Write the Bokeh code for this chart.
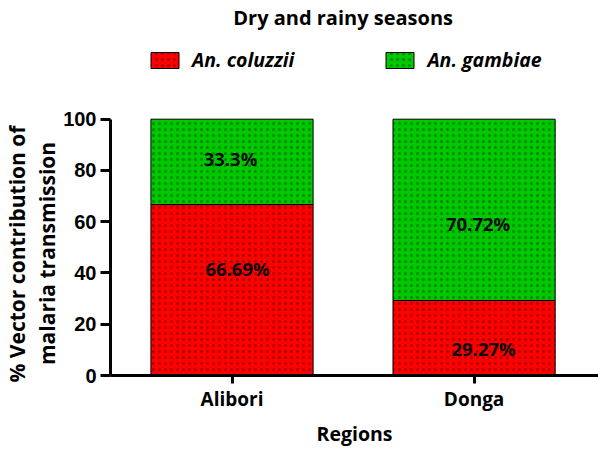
from bokeh.plotting import figure
from bokeh.models import Range1d, FixedTicker, Legend, LegendItem, ColumnDataSource, Label, Title
from bokeh.core.properties import value
from bokeh.embed import file_html
from bokeh.resources import INLINE

# ---- data ----
regions = ["Alibori", "Donga"]
species = ["An. coluzzii", "An. gambiae"]
coluzzii = [66.69, 29.27]
gambiae = [33.3, 70.72]
coluzzii_labels = ["66.69%", "29.27%"]
gambiae_labels = ["33.3%", "70.72%"]
y_ticks = [0, 20, 40, 60, 80, 100]
title_text = "Dry and rainy seasons"
y_label_lines = ["% Vector contribution of", "malaria transmission"]
x_label = "Regions"

# ---- styles / label nudges ----
FONT = "Open Sans"
colors = ["#FF0000", "#00C800"]
coluzzii_label_dy = [8.4, -4.1]
gambiae_label_dy = [1.3, -5.2]
coluzzii_label_dx = [5.5, 9.5]
gambiae_label_dx = [-1.5, 4]

xs = [i + 0.5 for i in range(len(regions))]
tops = [c + g for c, g in zip(coluzzii, gambiae)]

src = ColumnDataSource(dict(x=xs, c=coluzzii, g=gambiae, top=tops))

p = figure(width=598, height=449, x_range=Range1d(-0.002, 2.014), y_range=Range1d(0, 146.3),
           output_backend="svg", toolbar_location=None,
           min_border_left=108, min_border_right=0, min_border_top=0, min_border_bottom=71)

common = dict(width=0.67, line_color="black", line_width=1,
              hatch_pattern="dot", hatch_color="black", hatch_alpha=0.32,
              hatch_scale=6, hatch_weight=0.6)
r1 = p.vbar(x="x", bottom=0, top="c", source=src, fill_color=colors[0], **common)
r2 = p.vbar(x="x", bottom="c", top="top", source=src, fill_color=colors[1], **common)

# percentage labels
lab_x = xs + xs
lab_y = [c / 2 + d for c, d in zip(coluzzii, coluzzii_label_dy)] + \
        [c + g / 2 + d for c, g, d in zip(coluzzii, gambiae, gambiae_label_dy)]
lab_t = coluzzii_labels + gambiae_labels
lab_dx = coluzzii_label_dx + gambiae_label_dx
lsrc = ColumnDataSource(dict(x=lab_x, y=lab_y, t=lab_t, dx=lab_dx))
p.text(x="x", y="y", text="t", x_offset="dx", source=lsrc, text_font=value(FONT),
       text_font_style="bold", text_font_size="18.5px", text_align="center",
       text_baseline="middle", text_color="#0a0a0a")

# chart title inside the extended frame
p.add_layout(Label(x=0.959, y=139.7, text=title_text, text_align="center",
                   text_baseline="alphabetic", text_font=FONT, text_font_style="bold",
                   text_font_size="20px", text_color="black"))

legend = Legend(items=[LegendItem(label=species[0], renderers=[r1]),
                       LegendItem(label=species[1], renderers=[r2])],
                orientation="horizontal", location=(37, 302),
                glyph_width=35, glyph_height=20, label_standoff=10, spacing=88,
                padding=0, margin=0, border_line_color=None, background_fill_alpha=0,
                label_text_font=FONT, label_text_font_style="bold italic",
                label_text_font_size="19.5px", label_text_color="black")
p.add_layout(legend)

# two-line y-axis title as left-side titles (inner line first)
for line, off in zip(reversed(y_label_lines), [10.5, -7]):
    p.add_layout(Title(text=line, align="left", offset=off, standoff=0,
                       text_font=FONT, text_font_style="bold", text_font_size="21px",
                       text_color="black"), "left")

# axes
p.xgrid.visible = False
p.ygrid.visible = False
p.outline_line_color = None

p.yaxis.bounds = (0, 100)
p.yaxis.ticker = FixedTicker(ticks=y_ticks)
p.yaxis.minor_tick_line_color = None
p.yaxis.major_tick_in = 0
p.yaxis.major_tick_out = 10
p.yaxis.major_label_standoff = 4
p.yaxis.major_label_text_font = "Liberation Sans"
p.yaxis.major_label_text_font_style = "bold"
p.yaxis.major_label_text_font_size = "20px"

p.xaxis.ticker = FixedTicker(ticks=xs)
p.xaxis.major_label_overrides = {x: r for x, r in zip(xs, regions)}
p.xaxis.minor_tick_line_color = None
p.xaxis.major_tick_in = 0
p.xaxis.major_tick_out = 8
p.xaxis.major_label_standoff = 2
p.xaxis.major_label_text_font = FONT
p.xaxis.major_label_text_font_style = "bold"
p.xaxis.major_label_text_font_size = "19px"
p.xaxis.axis_label = x_label
p.xaxis.axis_label_standoff = 5
p.xaxis.axis_label_text_font = FONT
p.xaxis.axis_label_text_font_style = "bold"
p.xaxis.axis_label_text_font_size = "19.5px"

for ax in (p.xaxis[0], p.yaxis[0]):
    ax.axis_line_width = 3
    ax.axis_line_color = "black"
    ax.major_tick_line_width = 3
    ax.major_tick_line_color = "black"
    ax.major_label_text_color = "black"
    ax.axis_label_text_color = "black"

open("out.html", "w").write(file_html(p, INLINE))
